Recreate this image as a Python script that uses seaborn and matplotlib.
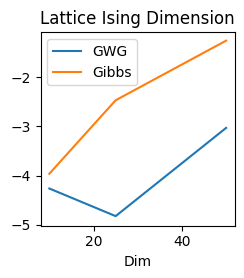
import seaborn as sns
import pandas as pd
from matplotlib import pyplot as plt

dims = [10, 25, 50]
gwg = [-4.26, -4.82, -3.03]
gibbs = [-3.96, -2.47, -1.26]

df = pd.DataFrame({
    'Dim': dims * 2,
    'value': gwg + gibbs,
    'method': ['GWG'] * len(dims) + ['Gibbs'] * len(dims),
})

fig, ax = plt.subplots(figsize=(2.44, 2.78), dpi=100)
sns.lineplot(data=df, x='Dim', y='value', hue='method', ax=ax)
ax.set_ylabel('')
ax.set_ylim(-5.015, -1.09)
ax.set_title('Lattice Ising Dimension')
ax.legend(loc='upper left')

plt.subplots_adjust(left=0.166, right=0.963, bottom=0.188, top=0.884)
plt.savefig('out.png', dpi=100)
